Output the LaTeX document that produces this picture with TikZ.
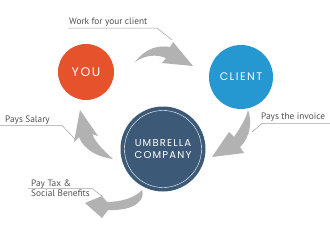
\documentclass[tikz,border=0pt]{standalone}
\usepackage{fontspec}
\setmainfont{PT Sans}
\newfontfamily\circfont[LetterSpace=13]{Poppins}
\newfontfamily\circfontb[LetterSpace=12]{Poppins}
\definecolor{youorange}{HTML}{E6522C}
\definecolor{clientblue}{HTML}{2597D1}
\definecolor{umbblue}{HTML}{3C5A77}
\definecolor{arrowgray}{HTML}{B2B2B2}
\definecolor{labgray}{HTML}{505050}
\definecolor{linegray}{HTML}{A0A0A0}
\tikzset{
  bubble/.style={circle, inner sep=0pt, text=white, font=\circfont},
  swoosh/.style={fill=arrowgray, draw=none},
  labtext/.style={anchor=base west, inner sep=0pt, text=labgray, font=\fontsize{9.3}{10}\selectfont},
  labline/.style={draw=linegray, line width=0.5pt},
}
\begin{document}
\begin{tikzpicture}[x=1pt,y=-1pt]
\useasboundingbox[fill=white] (0,0) rectangle (330,233);
% circles
\node[bubble, fill=youorange, minimum size=56pt, font=\circfont\fontsize{12.5}{13}\selectfont] (you) at (86,72) {YOU};
\node[bubble, fill=clientblue, minimum size=64pt, font=\circfont\fontsize{11}{12}\selectfont] (client) at (241,77) {CLIENT};
\node[bubble, fill=umbblue, minimum size=85pt, align=center, font=\circfontb\fontsize{10}{11.5}\selectfont] (umb) at (163,149) {UMBRELLA\\COMPANY};
\draw[white, line width=0.4pt] (umb.center) circle[radius=38.5pt];
% arrows
\fill[swoosh] (135,62) .. controls (146,48) and (158,45) .. (170,47) -- (173,42) -- (193,66) -- (162,63) -- (166,58) .. controls (156,54) and (145,55) .. (135,62) -- cycle;
\fill[swoosh] (80,110) -- (74,142) -- (79,137) .. controls (84,150) and (98,157) .. (113,159) .. controls (104,151) and (96,143) .. (92,134) -- (98,136) -- cycle;
\fill[swoosh] (212,157) -- (229,132) -- (234,137) .. controls (240,128) and (246,119) .. (248,110) .. controls (252,120) and (251,137) .. (240,147) -- (244,153) -- cycle;
\fill[swoosh] (85,203) -- (102,196) -- (107,202) .. controls (120,202) and (135,198) .. (142,190) .. controls (145,198) and (138,211) .. (108,210) -- (102,218) -- cycle;
% labels
\node[labtext] (lwork) at (69,24.5) {Work for your client};
\draw[labline] (68,28) -- (157,28) -- (172,40);
\node[labtext] (lsal) at (5,122.5) {Pays Salary};
\draw[labline] (0,125.5) -- (62,125.5) -- (75,139);
\node[labtext] (linv) at (261,119.5) {Pays the invoice};
\draw[labline] (330,123.5) -- (262,123.5) -- (252,132);
\node[labtext] (ltax1) at (31,186.5) {Pay Tax \&};
\node[labtext] (ltax2) at (31,196) {Social Benefits};
\draw[labline] (28,188.5) -- (92,188.5) -- (102,196);
\end{tikzpicture}
\end{document}
